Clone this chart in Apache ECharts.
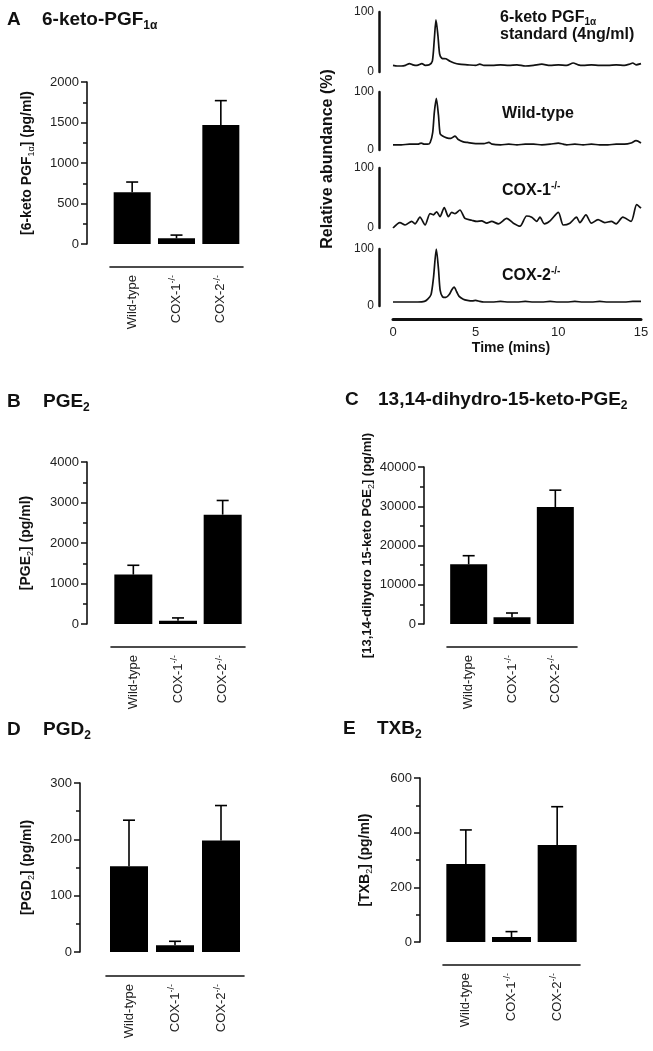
<!DOCTYPE html>
<html>
<head>
<meta charset="utf-8">
<script src="https://cdn.jsdelivr.net/npm/echarts@6/dist/echarts.min.js"></script>
<style>
html,body{margin:0;padding:0;background:#fff;}
#chart{width:653px;height:1051px;}
</style>
</head>
<body>
<div id="chart"></div>
<script>
// ---------------- data ----------------
const categories = ['Wild-type', 'COX-1', 'COX-2'];

const pgf1aMeans = [640, 70, 1470];
const pgf1aErr   = [125, 40, 300];
const pge2Means  = [1220, 80, 2700];
const pge2Err    = [230, 70, 350];
const dhkMeans   = [15200, 1700, 29800];
const dhkErr     = [2200, 1100, 4300];
const pgd2Means  = [152, 12, 198];
const pgd2Err    = [82, 7, 62];
const txb2Means  = [285, 18, 355];
const txb2Err    = [125, 20, 140];

const timeTicks = [0, 5, 10, 15];

const standardTrace = [[0,11],[0.25,10],[0.5,10],[0.75,11],[1.0,14],[1.2,12],[1.45,11],[1.75,14],[1.95,11],[2.2,12],[2.38,18],[2.5,55],[2.6,87],[2.72,60],[2.82,30],[2.95,23],[3.2,22],[3.45,18],[3.7,15],[4.0,13],[4.5,12],[5.0,11],[5.25,13],[5.5,11],[6.0,11],[6.5,12],[7.0,11],[7.5,12],[8.0,10],[8.5,11],[9.0,13],[9.5,11],[10.0,12],[10.5,11],[10.9,15],[11.2,12],[11.5,11],[12.0,12],[12.5,11],[13.0,11],[13.5,12],[14.0,11],[14.3,13],[14.5,15],[14.7,12],[15.0,14]];

const wildTypeTrace = [[0,9],[0.5,9],[1.0,10],[1.5,10],[1.7,12],[1.9,10],[2.1,10],[2.25,13],[2.4,30],[2.5,65],[2.62,89],[2.75,60],[2.85,28],[3.0,24],[3.25,21],[3.5,20],[3.75,24],[3.95,18],[4.25,14],[4.5,13],[5.0,11],[5.5,11],[5.8,13],[6.0,10],[6.5,9],[7.0,10],[7.5,9],[8.0,10],[8.5,10],[9.0,9],[9.5,10],[10.0,12],[10.3,10],[10.5,9],[11.0,10],[11.5,9],[12.0,10],[12.5,9],[13.0,9],[13.5,10],[14.0,10],[14.4,12],[14.7,16],[15.0,12]];

const cox1Trace = [[0,0],[0.42,9],[0.73,5],[1.13,11],[1.33,7],[1.63,18],[1.94,5],[2.24,24],[2.44,22],[2.64,27],[2.84,19],[3.1,34],[3.35,19],[3.55,26],[3.75,24],[4.05,30],[4.35,16],[4.76,13],[5.06,11],[5.36,12],[5.67,8],[5.97,11],[6.37,7],[6.88,16],[7.28,8],[7.68,3],[8.08,20],[8.39,18],[8.69,11],[8.89,18],[9.15,7],[9.5,12],[10.0,26],[10.3,5],[10.7,8],[11.1,18],[11.3,9],[11.67,22],[12.0,8],[12.4,14],[12.8,9],[13.2,11],[13.5,7],[13.9,18],[14.4,11],[14.74,39],[15.0,33]];

const cox2Trace = [[0,7],[0.5,7],[1.0,7],[1.5,7],[1.9,8],[2.1,12],[2.3,20],[2.45,50],[2.62,100],[2.75,65],[2.85,28],[3.0,16],[3.2,15],[3.4,20],[3.55,28],[3.7,33],[3.85,25],[4.0,17],[4.25,12],[4.5,10],[4.8,9],[5.0,10],[5.25,8],[5.5,7],[6.0,7],[6.5,8],[7.0,7],[7.5,7],[8.0,8],[8.5,7],[9.0,7],[9.5,8],[10.0,7],[10.5,7],[11.0,8],[11.5,7],[12.0,7],[12.5,8],[13.0,7],[13.5,7],[14.0,7],[14.5,8],[15.0,8]];

// ---------------- layout / style ----------------
const FF = 'Liberation Sans, Arial, Helvetica, sans-serif';
const INK = '#111';

const barPanels = [
  { means: pgf1aMeans, err: pgf1aErr, max: 2000, interval: 500,
    grid: {left: 110, top: 82, width: 133, height: 162}, yOff: 23, xOff: 23, barWidth: 37,
    name: '{b|[6-keto PGF}{s|1α}{b|] (pg/ml)}', nameGap: 51, nameSize: 14 },
  { means: pge2Means, err: pge2Err, max: 4000, interval: 1000,
    grid: {left: 111, top: 462, width: 134, height: 162}, yOff: 24, xOff: 23, barWidth: 38,
    name: '{b|[PGE}{s|2}{b|] (pg/ml)}', nameGap: 52, nameSize: 14 },
  { means: dhkMeans, err: dhkErr, max: 40000, interval: 10000,
    grid: {left: 447, top: 467, width: 130, height: 157}, yOff: 23, xOff: 23, barWidth: 37,
    name: '{b|[13,14-dihydro 15-keto PGE}{s|2}{b|] (pg/ml)}', nameGap: 45, nameSize: 13 },
  { means: pgd2Means, err: pgd2Err, max: 300, interval: 100,
    grid: {left: 106, top: 783, width: 138, height: 169}, yOff: 26, xOff: 24, barWidth: 38,
    name: '{b|[PGD}{s|2}{b|] (pg/ml)}', nameGap: 44, nameSize: 14 },
  { means: txb2Means, err: txb2Err, max: 600, interval: 200,
    grid: {left: 443, top: 778, width: 137, height: 164}, yOff: 23, xOff: 23, barWidth: 39,
    name: '{b|[TXB}{s|2}{b|] (pg/ml)}', nameGap: 46, nameSize: 14 }
];

const traces = [standardTrace, wildTypeTrace, cox1Trace, cox2Trace];
const traceGrids = [
  {left: 393, top: 12, width: 248, height: 60},
  {left: 393, top: 92, width: 248, height: 58},
  {left: 393, top: 168, width: 248, height: 60},
  {left: 393, top: 249, width: 248, height: 57}
];

const grid = [], xAxis = [], yAxis = [], series = [];

function catFormatter(v) {
  return v === 'Wild-type' ? '{n|Wild-type}' : '{n|' + v + '}{p|-/-}';
}
function plain(v) { return String(v); }

barPanels.forEach((p, i) => {
  grid.push(Object.assign({}, p.grid));
  xAxis.push({
    type: 'category', gridIndex: i, data: categories, offset: p.xOff,
    axisLine: {onZero: false, lineStyle: {color: INK, width: 1.6}},
    axisTick: {alignWithLabel: true, length: 6, lineStyle: {color: INK, width: 1.5}},
    axisLabel: {
      rotate: 90, margin: 8, interval: 0, formatter: catFormatter,
      rich: {
        n: {fontFamily: FF, fontSize: 13, color: '#222', lineHeight: 16},
        p: {fontFamily: FF, fontSize: 9, color: '#222', lineHeight: 9, verticalAlign: 'top'}
      }
    }
  });
  yAxis.push({
    type: 'value', gridIndex: i, min: 0, max: p.max, interval: p.interval, offset: p.yOff,
    axisLine: {show: true, onZero: false, lineStyle: {color: INK, width: 1.6}},
    axisTick: {show: true, length: 6, lineStyle: {color: INK, width: 1.5}},
    minorTick: {show: true, splitNumber: 2, length: 4, lineStyle: {color: INK, width: 1.5}},
    splitLine: {show: false},
    axisLabel: {margin: 8, fontFamily: FF, fontSize: 13, color: '#222', formatter: plain},
    name: p.name, nameLocation: 'middle', nameRotate: 90, nameGap: p.nameGap,
    nameTextStyle: {
      rich: {
        b: {fontFamily: FF, fontSize: p.nameSize, fontWeight: 'bold', color: INK, lineHeight: 18},
        s: {fontFamily: FF, fontSize: 9, color: INK, lineHeight: 9, verticalAlign: 'bottom'}
      }
    }
  });
  series.push({
    type: 'bar', xAxisIndex: i, yAxisIndex: i, data: p.means, barWidth: p.barWidth,
    itemStyle: {color: '#000'}, silent: true
  });
  series.push({
    type: 'custom', xAxisIndex: i, yAxisIndex: i, z: 5, silent: true,
    encode: {x: 0, y: [1, 2]},
    data: p.means.map((m, j) => [j, m, m + p.err[j]]),
    renderItem: function (params, api) {
      const lo = api.coord([api.value(0), api.value(1)]);
      const hi = api.coord([api.value(0), api.value(2)]);
      const hw = 6;
      return {
        type: 'group',
        children: [
          {type: 'line', shape: {x1: lo[0], y1: lo[1], x2: hi[0], y2: hi[1]}, style: {stroke: '#000', lineWidth: 1.6}},
          {type: 'line', shape: {x1: hi[0] - hw, y1: hi[1], x2: hi[0] + hw, y2: hi[1]}, style: {stroke: '#000', lineWidth: 1.6}}
        ]
      };
    }
  });
});

traces.forEach((tr, k) => {
  const gi = barPanels.length + k;
  const last = k === traces.length - 1;
  grid.push(Object.assign({}, traceGrids[k]));
  xAxis.push({
    type: 'value', gridIndex: gi, min: timeTicks[0], max: timeTicks[timeTicks.length - 1], interval: 5,
    show: last, offset: 13,
    axisLine: {show: true, onZero: false, lineStyle: {color: INK, width: 3}},
    axisTick: {show: false},
    splitLine: {show: false},
    axisLabel: {margin: 7, fontFamily: FF, fontSize: 13, color: '#222'}
  });
  yAxis.push({
    type: 'value', gridIndex: gi, min: 0, max: 100, interval: 100, offset: 14,
    axisLine: {show: true, onZero: false, lineStyle: {color: INK, width: 2.5}},
    axisTick: {show: false},
    splitLine: {show: false},
    axisLabel: {margin: 5, fontFamily: FF, fontSize: 12, color: '#222'}
  });
  series.push({
    type: 'line', xAxisIndex: gi, yAxisIndex: gi, data: tr, showSymbol: false, silent: true,
    smooth: 0.25, lineStyle: {color: INK, width: 1.7}
  });
});

// ---------------- text ----------------
const richTitle = {
  b: {fontFamily: FF, fontSize: 19, fontWeight: 'bold', fill: INK, lineHeight: 23},
  s: {fontFamily: FF, fontSize: 12, fontWeight: 'bold', fill: INK, lineHeight: 12, verticalAlign: 'bottom'}
};
const richLabel = {
  b: {fontFamily: FF, fontSize: 16, fontWeight: 'bold', fill: INK, lineHeight: 19},
  s: {fontFamily: FF, fontSize: 10, fontWeight: 'bold', fill: INK, lineHeight: 10, verticalAlign: 'bottom'},
  p: {fontFamily: FF, fontSize: 10, fontWeight: 'bold', fill: INK, lineHeight: 10, verticalAlign: 'top'}
};
function t(x, y, text, rich, extra) {
  return Object.assign({
    type: 'text', x: x, y: y, silent: true,
    style: {text: text, rich: rich, align: 'left', verticalAlign: 'middle'}
  }, extra || {});
}
const graphic = [
  t(7, 20, '{b|A}', richTitle), t(42, 20, '{b|6-keto-PGF}{s|1α}', richTitle),
  t(7, 402, '{b|B}', richTitle), t(43, 402, '{b|PGE}{s|2}', richTitle),
  t(345, 400, '{b|C}', richTitle), t(378, 400, '{b|13,14-dihydro-15-keto-PGE}{s|2}', richTitle),
  t(7, 730, '{b|D}', richTitle), t(43, 730, '{b|PGD}{s|2}', richTitle),
  t(343, 729, '{b|E}', richTitle), t(377, 729, '{b|TXB}{s|2}', richTitle),
  t(500, 18, '{b|6-keto PGF}{s|1α}', richLabel),
  t(500, 35, '{b|standard (4ng/ml)}', richLabel),
  t(502, 114, '{b|Wild-type}', richLabel),
  t(502, 191, '{b|COX-1}{p|-/-}', richLabel),
  t(502, 276, '{b|COX-2}{p|-/-}', richLabel),
  {type: 'text', x: 328, y: 159, rotation: Math.PI / 2, silent: true,
   style: {text: 'Relative abundance (%)', fontFamily: FF, fontSize: 16, fontWeight: 'bold', fill: INK, align: 'center', verticalAlign: 'middle'}},
  {type: 'text', x: 511, y: 348, silent: true,
   style: {text: 'Time (mins)', fontFamily: FF, fontSize: 14, fontWeight: 'bold', fill: INK, align: 'center', verticalAlign: 'middle'}}
];

const chart = echarts.init(document.getElementById('chart'), null, {renderer: 'canvas'});
chart.setOption({
  backgroundColor: '#fff',
  animation: false,
  textStyle: {fontFamily: FF},
  grid: grid, xAxis: xAxis, yAxis: yAxis, series: series, graphic: graphic
});
</script>
</body>
</html>
